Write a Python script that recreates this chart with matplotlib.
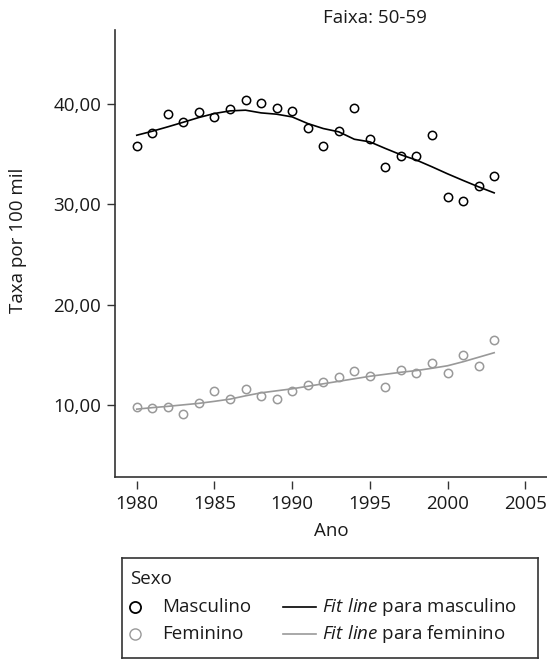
import numpy as np
import matplotlib
matplotlib.use("Agg")
from matplotlib import pyplot as plt

plt.rcParams["font.family"] = ["Open Sans", "DejaVu Sans"]
plt.rcParams["mathtext.fontset"] = "custom"
plt.rcParams["mathtext.it"] = "Open Sans:italic"
plt.rcParams["mathtext.rm"] = "Open Sans"

anos = np.arange(1980, 2004)
masculino = [35.84, 37.14, 39.03, 38.20, 39.20, 38.67, 39.53, 40.37, 40.07, 39.57,
             39.30, 37.67, 35.78, 37.30, 39.63, 36.50, 33.70, 34.80, 34.85, 36.90,
             30.73, 30.36, 31.86, 32.79]
feminino = [9.77, 9.67, 9.80, 9.07, 10.17, 11.43, 10.57, 11.60, 10.90, 10.63,
            11.37, 11.96, 12.32, 12.79, 13.42, 12.86, 11.82, 13.49, 13.22, 14.16,
            13.19, 14.99, 13.89, 16.45]
fit_masculino = [36.90, 37.30, 37.74, 38.20, 38.67, 39.07, 39.33, 39.40, 39.13, 39.00,
                 38.73, 38.07, 37.57, 37.24, 36.50, 36.24, 35.58, 34.95, 34.42, 33.75,
                 33.05, 32.39, 31.75, 31.15]
fit_feminino = [9.57, 9.72, 9.85, 10.00, 10.15, 10.35, 10.57, 10.90, 11.20, 11.40,
                11.60, 11.85, 12.10, 12.35, 12.60, 12.85, 13.05, 13.25, 13.42, 13.65,
                13.90, 14.30, 14.75, 15.20]
xticks = [1980, 1985, 1990, 1995, 2000, 2005]
yticks = [10, 20, 30, 40]
serie_labels = ["Masculino", "Feminino"]
fit_labels = [r"$\it{Fit\ line}$ para masculino", r"$\it{Fit\ line}$ para feminino"]

W, H = 547, 660
FS = 13.5
TXT = "#1a1a1a"
fig = plt.figure(figsize=(W / 100, H / 100), dpi=100)


def box(x0, y0, x1, y1):
    return [x0 / W, 1 - y1 / H, (x1 - x0) / W, (y1 - y0) / H]


ax = fig.add_axes(box(115, 30, 547, 477))
c_m = "black"
c_f = "#999999"
ax.plot(anos, fit_masculino, color=c_m, lw=1.2, zorder=2)
ax.plot(anos, fit_feminino, color=c_f, lw=1.2, zorder=2)
ax.plot(anos, masculino, "o", mfc="none", mec=c_m, ms=6, mew=1.1, zorder=3)
ax.plot(anos, feminino, "o", mfc="none", mec=c_f, ms=6, mew=1.1, zorder=3)

ax.set_xlim(1978.6, 2006.4)
ax.set_ylim(2.8, 47.4)
ax.set_xticks(xticks)
ax.set_yticks(yticks)
ax.set_yticklabels([("%.2f" % v).replace(".", ",") for v in yticks])
for s in ["top", "right", "bottom"]:
    ax.spines[s].set_visible(False)
ax.spines["left"].set_color("#333333")
ax.spines["left"].set_linewidth(1.2)
ax.spines["bottom"].set_position(("outward", 3))
ax.plot([0, 1], [0, 0], transform=ax.transAxes, color="#333333", lw=1.2, clip_on=False)
ax.tick_params(axis="both", labelsize=FS, color="#333333", width=1.0, length=6, pad=4,
               labelcolor=TXT)

fig.text(375 / W, 1 - 18 / H, "Faixa: 50-59", ha="center", va="center", fontsize=FS, color=TXT)
fig.text(18 / W, 1 - 240 / H, "Taxa por 100 mil", ha="center", va="center", rotation=90,
         fontsize=FS, color=TXT)
fig.text(331 / W, 1 - 531 / H, "Ano", ha="center", va="center", fontsize=FS, color=TXT)

# legend box drawn by hand, in pixel coords of the figure
lax = fig.add_axes(box(122, 558, 538, 658))
lax.set_xlim(122, 538)
lax.set_ylim(658, 558)
lax.set_xticks([])
lax.set_yticks([])
for s in lax.spines.values():
    s.set_color("#333333")
    s.set_linewidth(1.2)
lax.text(130, 579, "Sexo", fontsize=FS, color=TXT, va="center", ha="left")
rows = [607, 634]
cores = [c_m, c_f]
for y, cor, lab, flab in zip(rows, cores, serie_labels, fit_labels):
    lax.plot([135], [y], "o", mfc="none", mec=cor, ms=8, mew=1.3 if cor == c_m else 1.0)
    lax.text(162, y, lab, fontsize=FS, color=TXT, va="center", ha="left")
    lax.plot([283, 316], [y, y], color=cor, lw=1.2)
    lax.text(322, y, flab, fontsize=FS, color=TXT, va="center", ha="left")

fig.savefig("out.png", dpi=100)
